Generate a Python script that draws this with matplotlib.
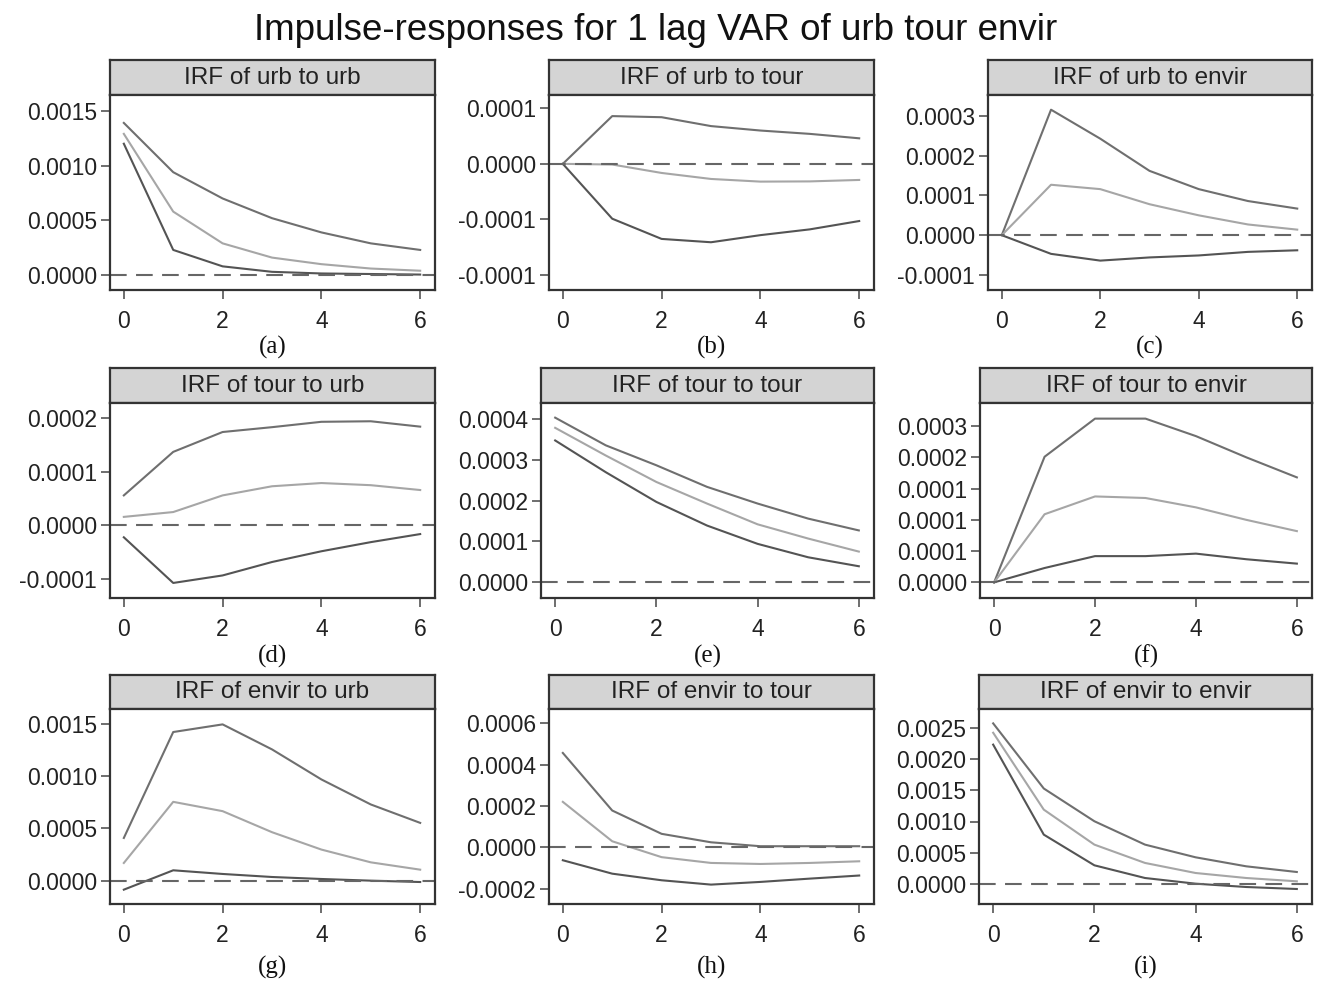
import matplotlib
matplotlib.use('Agg')
import matplotlib.pyplot as plt

plt.rcParams['font.family'] = ['Liberation Sans', 'DejaVu Sans']

###########################################################################################
# values (steps 0..6), upper band / irf / lower band

steps = [0, 1, 2, 3, 4, 5, 6]

a_hi = [0.00139, 0.00094, 0.00070, 0.00052, 0.00039, 0.00029, 0.00023]
a_mid = [0.00129, 0.00058, 0.00029, 0.00016, 0.00010, 0.00006, 0.00004]
a_lo = [0.00120, 0.00023, 0.00008, 0.00003, 0.000015, 0.00001, 0.000005]

b_hi = [0.0, 4.3e-5, 4.2e-5, 3.4e-5, 3.0e-5, 2.7e-5, 2.3e-5]
b_mid = [0.0, -0.6e-6, -0.82e-5, -1.36e-5, -1.6e-5, -1.58e-5, -1.45e-5]
b_lo = [0.0, -4.94e-5, -6.76e-5, -7.06e-5, -6.42e-5, -5.9e-5, -5.15e-5]

c_hi = [0.0, 3.16e-4, 2.43e-4, 1.62e-4, 1.16e-4, 0.86e-4, 0.67e-4]
c_mid = [0.0, 1.27e-4, 1.16e-4, 0.78e-4, 0.50e-4, 0.27e-4, 0.14e-4]
c_lo = [0.0, -0.47e-4, -0.64e-4, -0.56e-4, -0.51e-4, -0.42e-4, -0.38e-4]

d_hi = [0.56e-4, 1.37e-4, 1.74e-4, 1.83e-4, 1.93e-4, 1.94e-4, 1.84e-4]
d_mid = [0.16e-4, 0.25e-4, 0.56e-4, 0.73e-4, 0.79e-4, 0.75e-4, 0.66e-4]
d_lo = [-0.22e-4, -1.07e-4, -0.93e-4, -0.68e-4, -0.48e-4, -0.31e-4, -0.16e-4]

e_hi = [4.04e-4, 3.36e-4, 2.87e-4, 2.34e-4, 1.93e-4, 1.56e-4, 1.27e-4]
e_mid = [3.79e-4, 3.11e-4, 2.46e-4, 1.93e-4, 1.42e-4, 1.07e-4, 0.75e-4]
e_lo = [3.48e-4, 2.70e-4, 1.97e-4, 1.39e-4, 0.94e-4, 0.61e-4, 0.39e-4]

f_hi = [0.0, 2.01e-4, 2.62e-4, 2.62e-4, 2.34e-4, 2.00e-4, 1.68e-4]
f_mid = [0.0, 1.09e-4, 1.375e-4, 1.35e-4, 1.20e-4, 1.00e-4, 0.82e-4]
f_lo = [0.0, 0.23e-4, 0.42e-4, 0.42e-4, 0.46e-4, 0.37e-4, 0.30e-4]

g_hi = [4.08e-4, 14.2e-4, 14.93e-4, 12.54e-4, 9.67e-4, 7.28e-4, 5.52e-4]
g_mid = [1.69e-4, 7.53e-4, 6.64e-4, 4.63e-4, 2.97e-4, 1.75e-4, 1.05e-4]
g_lo = [-0.86e-4, 0.99e-4, 0.64e-4, 0.35e-4, 0.16e-4, 0.0, -0.13e-4]

h_hi = [4.57e-4, 1.78e-4, 0.65e-4, 0.24e-4, 0.05e-4, 0.05e-4, 0.05e-4]
h_mid = [2.20e-4, 0.29e-4, -0.48e-4, -0.76e-4, -0.81e-4, -0.76e-4, -0.68e-4]
h_lo = [-0.63e-4, -1.28e-4, -1.60e-4, -1.81e-4, -1.68e-4, -1.52e-4, -1.37e-4]

i_hi = [25.7e-4, 15.28e-4, 10.04e-4, 6.3e-4, 4.27e-4, 2.83e-4, 1.92e-4]
i_mid = [24.2e-4, 11.9e-4, 6.3e-4, 3.37e-4, 1.76e-4, 0.96e-4, 0.43e-4]
i_lo = [22.3e-4, 7.9e-4, 2.99e-4, 0.96e-4, 0.05e-4, -0.48e-4, -0.8e-4]

titles = ['IRF of urb to urb', 'IRF of urb to tour', 'IRF of urb to envir',
          'IRF of tour to urb', 'IRF of tour to tour', 'IRF of tour to envir',
          'IRF of envir to urb', 'IRF of envir to tour', 'IRF of envir to envir']
letters = ['(a)', '(b)', '(c)', '(d)', '(e)', '(f)', '(g)', '(h)', '(i)']

# y ticks and the (rounded) labels as printed in the reference
a_ticks = [0, 0.0005, 0.0010, 0.0015]
a_labels = ['0.0000', '0.0005', '0.0010', '0.0015']
b_ticks = [-1e-4, -5e-5, 0, 5e-5]
b_labels = ['-0.0001', '-0.0001', '0.0000', '0.0001']
c_ticks = [-1e-4, 0, 1e-4, 2e-4, 3e-4]
c_labels = ['-0.0001', '0.0000', '0.0001', '0.0002', '0.0003']
d_ticks = [-1e-4, 0, 1e-4, 2e-4]
d_labels = ['-0.0001', '0.0000', '0.0001', '0.0002']
e_ticks = [0, 1e-4, 2e-4, 3e-4, 4e-4]
e_labels = ['0.0000', '0.0001', '0.0002', '0.0003', '0.0004']
f_ticks = [0, 5e-5, 1e-4, 1.5e-4, 2e-4, 2.5e-4]
f_labels = ['0.0000', '0.0001', '0.0001', '0.0001', '0.0002', '0.0003']
g_ticks = [0, 0.0005, 0.0010, 0.0015]
g_labels = ['0.0000', '0.0005', '0.0010', '0.0015']
h_ticks = [-2e-4, 0, 2e-4, 4e-4, 6e-4]
h_labels = ['-0.0002', '0.0000', '0.0002', '0.0004', '0.0006']
i_ticks = [0, 0.0005, 0.0010, 0.0015, 0.0020, 0.0025]
i_labels = ['0.0000', '0.0005', '0.0010', '0.0015', '0.0020', '0.0025']

###########################################################################################

W, H = 1318, 986
fig = plt.figure(figsize=(W / 100, H / 100), dpi=100)

def px_axes(left, top, right, bottom):
    """axes from pixel box (top-left origin)"""
    return fig.add_axes([left / W, 1 - bottom / H, (right - left) / W, (bottom - top) / H])

panels = [
    (a_hi, a_mid, a_lo, a_ticks, a_labels, (-0.000136, 0.001645)),
    (b_hi, b_mid, b_lo, b_ticks, b_labels, (-11.36e-5, 6.2e-5)),
    (c_hi, c_mid, c_lo, c_ticks, c_labels, (-1.38e-4, 3.53e-4)),
    (d_hi, d_mid, d_lo, d_ticks, d_labels, (-1.35e-4, 2.28e-4)),
    (e_hi, e_mid, e_lo, e_ticks, e_labels, (-0.39e-4, 4.4e-4)),
    (f_hi, f_mid, f_lo, f_ticks, f_labels, (-0.25e-4, 2.87e-4)),
    (g_hi, g_mid, g_lo, g_ticks, g_labels, (-2.23e-4, 16.4e-4)),
    (h_hi, h_mid, h_lo, h_ticks, h_labels, (-2.75e-4, 6.7e-4)),
    (i_hi, i_mid, i_lo, i_ticks, i_labels, (-3.2e-4, 28.0e-4)),
]

lefts = [110, 549, 988, 110, 541, 980, 110, 549, 979]
rights = [435, 874, 1312]
rows = [(60, 95, 290, 347), (368, 403, 598, 656), (675, 709, 904, 967)]

edge = '#333333'

for k, (hi, mid, lo, ticks, labels, ylim) in enumerate(panels):
    r, c = divmod(k, 3)
    strip_top, box_top, box_bot, letter_y = rows[r]
    left, right = lefts[k], rights[c]

    # title strip
    st = px_axes(left, strip_top, right, box_top)
    st.set_facecolor('#d4d4d4')
    st.set_xticks([])
    st.set_yticks([])
    for sp in st.spines.values():
        sp.set_linewidth(1.6)
        sp.set_color(edge)
    st.text(0.5, 0.5, titles[k], ha='center', va='center', fontsize=17.5,
            color='#222222', transform=st.transAxes)

    ax = px_axes(left, box_top, right, box_bot)
    ax.plot(steps, hi, color='#6f6f6f', lw=1.5)
    ax.plot(steps, mid, color='#a6a6a6', lw=1.5)
    ax.plot(steps, lo, color='#545454', lw=1.5)
    ax.axhline(0, color='#666666', lw=1.5, dashes=(8, 4.5))

    ax.set_xlim(-0.28, 6.3)
    ax.set_ylim(*ylim)
    ax.set_xticks([0, 2, 4, 6])
    ax.set_yticks(ticks)
    ax.set_yticklabels(labels)
    ax.tick_params(axis='both', direction='out', length=6.5, width=1.2,
                   color='#555555', labelsize=16.5, labelcolor='#222222')
    ax.tick_params(axis='x', pad=8)
    ax.tick_params(axis='y', pad=3)
    for sp in ax.spines.values():
        sp.set_linewidth(1.6)
        sp.set_color(edge)

    fig.text((left + right) / 2 / W, 1 - letter_y / H, letters[k], ha='center', va='center',
             fontsize=18, family=['Liberation Serif', 'DejaVu Serif'], color='#111111')

fig.text(656 / W, 1 - 30 / H, 'Impulse-responses for 1 lag VAR of urb tour envir',
         ha='center', va='center', fontsize=26.5, color='#111111')

fig.savefig('out.png', dpi=100)
